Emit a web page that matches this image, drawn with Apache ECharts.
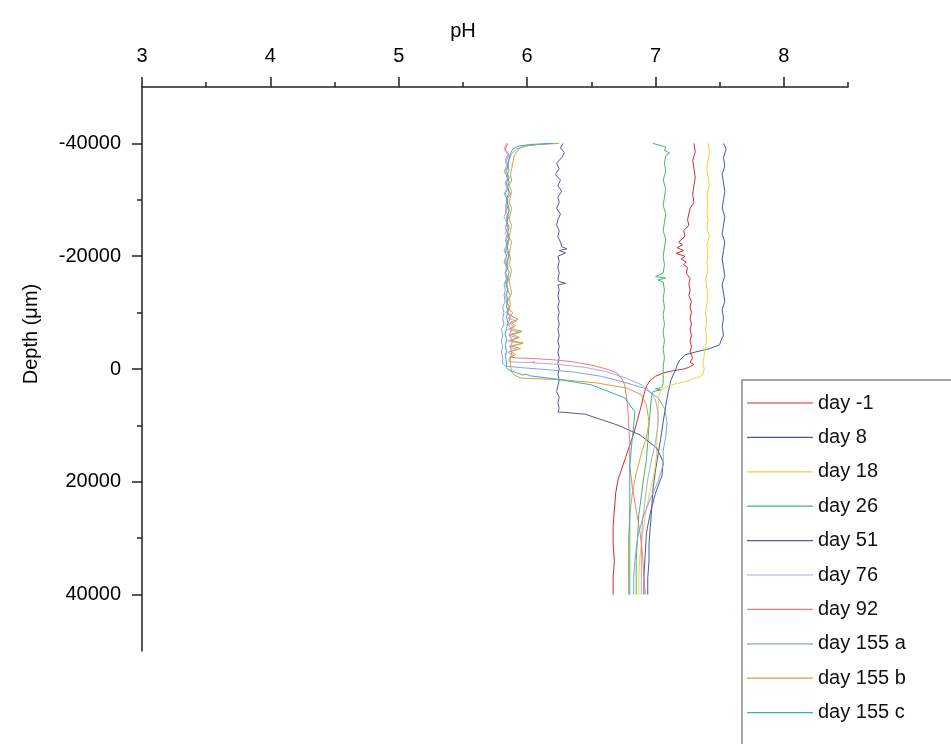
<!DOCTYPE html>
<html>
<head>
<meta charset="utf-8">
<script src="https://cdn.jsdelivr.net/npm/echarts@6/dist/echarts.min.js"></script>
<style>
  html, body { margin: 0; padding: 0; background: #fff; }
  #chart { width: 951px; height: 744px; }
</style>
</head>
<body>
<div id="chart"></div>
<script>
// pH depth profiles: each point is [pH, depth in µm]
const DAY_M1 = [[7.30,-40000],[7.31,-38500],[7.29,-37000],[7.30,-35500],[7.31,-34000],[7.30,-32500],[7.29,-31000],[7.30,-29500],[7.27,-28500],[7.26,-27500],[7.25,-26500],[7.26,-25500],[7.22,-24500],[7.23,-23500],[7.18,-22500],[7.21,-22000],[7.17,-21500],[7.22,-21000],[7.16,-20500],[7.23,-20000],[7.20,-19500],[7.24,-19000],[7.22,-18500],[7.25,-18000],[7.24,-17000],[7.27,-16000],[7.26,-15000],[7.27,-14000],[7.26,-13000],[7.28,-12000],[7.27,-11000],[7.28,-10000],[7.27,-9000],[7.28,-8000],[7.27,-7000],[7.28,-6000],[7.27,-5000],[7.28,-4000],[7.27,-3000],[7.29,-2000],[7.27,-1200],[7.30,-800],[7.26,-300],[7.22,0],[7.14,300],[7.06,700],[7.00,1300],[6.96,2000],[6.93,3000],[6.91,4500],[6.89,6500],[6.86,9000],[6.83,11500],[6.80,13500],[6.77,15500],[6.74,17500],[6.71,19500],[6.69,22000],[6.68,25000],[6.67,28000],[6.67,31000],[6.68,34000],[6.67,37000],[6.67,40000]];

const DAY_8 = [[7.53,-40000],[7.55,-39000],[7.53,-37500],[7.54,-36000],[7.52,-34500],[7.53,-33000],[7.54,-31500],[7.53,-30000],[7.52,-28500],[7.54,-27000],[7.53,-25500],[7.52,-24000],[7.54,-22500],[7.53,-21000],[7.52,-19500],[7.53,-18000],[7.54,-16500],[7.52,-15000],[7.53,-13500],[7.54,-12000],[7.52,-10500],[7.53,-9000],[7.52,-7500],[7.53,-6000],[7.51,-5000],[7.50,-4300],[7.42,-3600],[7.31,-3000],[7.23,-2500],[7.19,-1600],[7.17,-700],[7.15,500],[7.12,2000],[7.10,4000],[7.08,6500],[7.06,9400],[7.04,12500],[7.02,15200],[7.00,18000],[6.98,21500],[6.97,25000],[6.96,28000],[6.95,31000],[6.95,34000],[6.94,37000],[6.94,40000]];

const DAY_18 = [[7.41,-40000],[7.42,-38500],[7.41,-37000],[7.40,-35500],[7.41,-34000],[7.42,-32500],[7.40,-31000],[7.41,-29500],[7.40,-28000],[7.41,-26500],[7.40,-25000],[7.42,-23500],[7.40,-22000],[7.41,-20500],[7.40,-19000],[7.41,-17500],[7.39,-16000],[7.40,-14500],[7.41,-13000],[7.40,-11500],[7.39,-10000],[7.40,-8500],[7.39,-7000],[7.40,-5500],[7.39,-4000],[7.38,-2500],[7.37,-1000],[7.38,0],[7.37,1000],[7.34,1400],[7.30,1600],[7.27,2000],[7.22,2300],[7.16,2600],[7.10,3000],[7.05,3600],[7.03,4500],[7.02,6500],[7.02,9000],[7.01,12000],[7.01,15000],[7.00,17000],[6.98,19500],[6.95,22500],[6.92,26000],[6.90,29500],[6.88,33000],[6.87,36500],[6.87,40000]];

const DAY_26 = [[6.98,-40000],[7.03,-39700],[7.08,-39400],[7.07,-38800],[7.11,-38300],[7.08,-37800],[7.07,-36500],[7.08,-35000],[7.06,-33500],[7.08,-32000],[7.07,-30500],[7.06,-29000],[7.08,-27500],[7.07,-26000],[7.06,-24500],[7.08,-23000],[7.07,-21500],[7.06,-20000],[7.07,-18500],[7.06,-17000],[7.00,-16400],[7.08,-16100],[7.02,-15800],[7.06,-15400],[7.07,-14000],[7.06,-12500],[7.07,-11000],[7.06,-9500],[7.07,-8000],[7.06,-6500],[7.07,-5000],[7.06,-3500],[7.07,-2000],[7.06,-500],[7.06,1000],[7.06,2500],[7.05,3300],[7.00,3500],[7.04,3700],[6.98,4000],[6.97,5000],[6.96,7000],[6.95,10000],[6.94,13000],[6.93,16000],[6.91,19000],[6.89,22500],[6.87,26000],[6.86,30000],[6.85,34000],[6.85,37000],[6.85,40000]];

const DAY_51 = [[6.28,-40000],[6.26,-39200],[6.29,-38400],[6.27,-37500],[6.23,-36500],[6.25,-35500],[6.22,-34500],[6.26,-33500],[6.24,-32500],[6.27,-31500],[6.24,-30500],[6.25,-29500],[6.23,-28500],[6.26,-27500],[6.24,-26500],[6.23,-25500],[6.25,-24500],[6.24,-23500],[6.26,-22500],[6.27,-21700],[6.31,-21300],[6.25,-21000],[6.30,-20600],[6.24,-20000],[6.25,-19000],[6.24,-18000],[6.25,-17000],[6.24,-16000],[6.25,-15500],[6.30,-15200],[6.24,-14900],[6.25,-14000],[6.24,-13000],[6.25,-12000],[6.24,-11000],[6.25,-10000],[6.24,-9000],[6.25,-8000],[6.24,-7000],[6.25,-6000],[6.24,-5000],[6.25,-4000],[6.24,-3000],[6.25,-2000],[6.24,-1000],[6.25,0],[6.24,1000],[6.25,2000],[6.24,3000],[6.23,4000],[6.25,5000],[6.24,6000],[6.25,7000],[6.24,7600],[6.45,8000],[6.70,9900],[6.88,11700],[7.01,14000],[7.06,16500],[7.05,19000],[7.00,22000],[6.96,25500],[6.93,29000],[6.92,33000],[6.91,37000],[6.91,40000]];

const DAY_76 = [[5.84,-40000],[5.82,-39000],[5.85,-38000],[5.83,-37000],[5.84,-36000],[5.82,-35000],[5.85,-34000],[5.83,-33000],[5.84,-32000],[5.82,-31000],[5.85,-30000],[5.83,-29000],[5.84,-28000],[5.82,-27000],[5.84,-26000],[5.83,-25000],[5.85,-24000],[5.83,-23000],[5.84,-22000],[5.82,-21000],[5.84,-20000],[5.83,-19000],[5.85,-18000],[5.83,-17000],[5.84,-16000],[5.83,-15000],[5.85,-14000],[5.83,-13000],[5.84,-12000],[5.86,-11000],[5.84,-10000],[5.88,-9500],[5.85,-9000],[5.92,-8500],[5.86,-8000],[5.90,-7500],[5.85,-7000],[5.95,-6500],[5.86,-6000],[5.93,-5500],[5.85,-5000],[5.96,-4500],[5.86,-4000],[5.92,-3500],[5.85,-3000],[5.89,-2500],[5.86,-2000],[5.86,-1300],[5.92,-1200],[6.01,-1150],[6.06,-1250],[6.04,-1100],[6.20,-900],[6.45,-300],[6.62,500],[6.77,1600],[6.90,2900],[6.96,4000],[7.00,5500],[7.02,7600],[7.02,10000],[7.00,13000],[6.97,16000],[6.94,19500],[6.92,23000],[6.90,27000],[6.89,31000],[6.89,35000],[6.89,40000]];

const DAY_92 = [[5.85,-40000],[5.83,-39000],[5.86,-38000],[5.84,-37000],[5.85,-36000],[5.83,-35000],[5.86,-34000],[5.84,-33000],[5.85,-32000],[5.87,-31000],[5.84,-30000],[5.85,-29000],[5.83,-28000],[5.86,-27000],[5.84,-26000],[5.85,-25000],[5.83,-24000],[5.86,-23000],[5.85,-22000],[5.84,-21000],[5.86,-20000],[5.84,-19000],[5.85,-18000],[5.83,-17000],[5.86,-16000],[5.84,-15000],[5.85,-14000],[5.87,-13000],[5.84,-12000],[5.86,-11000],[5.85,-10000],[5.87,-9000],[5.85,-8000],[5.88,-7000],[5.86,-6000],[5.89,-5000],[5.87,-4000],[5.88,-3000],[5.87,-2100],[5.93,-1950],[6.05,-1850],[6.20,-1650],[6.35,-1300],[6.50,-700],[6.62,0],[6.70,700],[6.74,1800],[6.76,2800],[6.78,5800],[6.79,9000],[6.80,13000],[6.80,17000],[6.82,21000],[6.85,25000],[6.88,29000],[6.90,33000],[6.91,37000],[6.92,40000]];

const DAY_155A = [[6.22,-40000],[6.08,-39800],[5.98,-39500],[5.92,-39000],[5.88,-38200],[5.86,-37200],[5.85,-36000],[5.84,-35000],[5.86,-34000],[5.84,-33000],[5.85,-32000],[5.83,-31000],[5.85,-30000],[5.84,-29000],[5.86,-28000],[5.84,-27000],[5.85,-26000],[5.83,-25000],[5.85,-24000],[5.84,-23000],[5.85,-22000],[5.83,-21000],[5.84,-20000],[5.82,-19000],[5.84,-18000],[5.83,-17000],[5.84,-16000],[5.82,-15000],[5.83,-14000],[5.82,-13000],[5.83,-12000],[5.81,-11000],[5.82,-10000],[5.81,-9000],[5.82,-8000],[5.80,-7000],[5.81,-6000],[5.80,-5000],[5.81,-4000],[5.80,-3000],[5.81,-2000],[5.81,-1000],[5.83,-500],[5.95,-250],[6.15,100],[6.36,530],[6.58,1300],[6.75,2300],[6.91,3400],[7.02,5100],[7.07,7000],[7.09,9400],[7.08,12000],[7.06,14500],[7.06,17000],[7.02,20000],[6.96,23000],[6.90,26500],[6.86,30000],[6.84,34000],[6.83,37000],[6.83,40000]];

const DAY_155B = [[6.25,-40000],[6.10,-39850],[6.00,-39600],[5.95,-39200],[5.92,-38600],[5.90,-37800],[5.89,-36800],[5.88,-35500],[5.87,-34500],[5.88,-33500],[5.86,-32500],[5.88,-31500],[5.87,-30500],[5.86,-29500],[5.88,-28500],[5.87,-27500],[5.86,-26500],[5.88,-25500],[5.87,-24500],[5.86,-23500],[5.88,-22500],[5.87,-21500],[5.86,-20500],[5.87,-19500],[5.86,-18500],[5.88,-17500],[5.87,-16500],[5.86,-15500],[5.87,-14500],[5.88,-13500],[5.86,-12500],[5.87,-11500],[5.86,-10500],[5.89,-10000],[5.87,-9500],[5.93,-8800],[5.87,-8300],[5.91,-7700],[5.87,-7200],[5.96,-6700],[5.88,-6200],[5.94,-5600],[5.87,-5100],[5.97,-4600],[5.88,-4100],[5.95,-3600],[5.87,-3100],[5.91,-2600],[5.87,-2000],[5.87,-500],[5.88,500],[5.90,1060],[5.95,1600],[6.30,1950],[6.55,2500],[6.78,3400],[6.89,4600],[6.93,6400],[6.95,9400],[6.93,12000],[6.89,15000],[6.85,18500],[6.82,22000],[6.80,26000],[6.79,30000],[6.79,35000],[6.79,40000]];

const DAY_155C = [[6.20,-40000],[6.02,-39800],[5.93,-39500],[5.89,-39000],[5.87,-38200],[5.86,-37200],[5.85,-36200],[5.86,-35200],[5.84,-34200],[5.86,-33200],[5.85,-32200],[5.86,-31200],[5.84,-30200],[5.85,-29200],[5.86,-28200],[5.85,-27200],[5.84,-26200],[5.86,-25200],[5.85,-24200],[5.86,-23200],[5.84,-22200],[5.85,-21200],[5.86,-20200],[5.85,-19200],[5.84,-18200],[5.86,-17200],[5.85,-16200],[5.84,-15200],[5.85,-14200],[5.84,-13200],[5.85,-12200],[5.84,-11200],[5.85,-10200],[5.84,-9200],[5.85,-8200],[5.84,-7200],[5.83,-6200],[5.84,-5200],[5.83,-4200],[5.84,-3200],[5.83,-2200],[5.84,-1200],[5.84,-200],[5.86,180],[5.92,700],[5.97,1060],[5.99,900],[6.02,1200],[6.20,1700],[6.50,2800],[6.76,5100],[6.84,7600],[6.83,10000],[6.82,12200],[6.80,17000],[6.80,22000],[6.80,27000],[6.80,32000],[6.80,36000],[6.80,40000]];

const SERIES_NAMES = ['day -1', 'day 8', 'day 18', 'day 26', 'day 51', 'day 76', 'day 92', 'day 155 a', 'day 155 b', 'day 155 c'];
const SERIES_DATA = [DAY_M1, DAY_8, DAY_18, DAY_26, DAY_51, DAY_76, DAY_92, DAY_155A, DAY_155B, DAY_155C];
const SERIES_COLORS = ['#d42a2a', '#3d5aa6', '#f3d33c', '#45b86a', '#58579a', '#b4a8cc', '#f07a7a', '#7fa6d6', '#d9a23a', '#2fb3b0'];

// axis ticks
const PH_MAJOR = [3, 4, 5, 6, 7, 8];
const PH_MINOR = [3.5, 4.5, 5.5, 6.5, 7.5, 8.5];
const DEPTH_MAJOR = [-40000, -20000, 0, 20000, 40000];
const DEPTH_MINOR = [-30000, -10000, 10000, 30000];

const FONT = "'Liberation Sans', Arial, sans-serif";
const AXIS_COLOR = '#222';

const chart = echarts.init(document.getElementById('chart'), null, { renderer: 'canvas' });

chart.setOption({
  animation: false,
  backgroundColor: '#fff',
  textStyle: { fontFamily: FONT },
  grid: { left: 142, right: 103, top: 87, bottom: 93, containLabel: false },
  xAxis: [{
    type: 'value', position: 'top', min: 3, max: 8.5,
    axisLine: { show: true, onZero: false, lineStyle: { color: AXIS_COLOR, width: 1.5 } },
    axisTick: { show: true, inside: false, length: 10, customValues: PH_MAJOR, lineStyle: { color: AXIS_COLOR, width: 1.5 } },
    axisLabel: { customValues: PH_MAJOR, fontSize: 20, color: '#000', fontFamily: FONT, margin: 21 },
    splitLine: { show: false }
  }, {
    type: 'value', position: 'top', min: 3, max: 8.5,
    axisLine: { show: false, onZero: false },
    axisTick: { show: true, inside: false, length: 5, customValues: PH_MINOR, lineStyle: { color: AXIS_COLOR, width: 1.5 } },
    axisLabel: { show: false },
    splitLine: { show: false }
  }],
  yAxis: [{
    type: 'value', inverse: true, min: -50000, max: 50000, position: 'left',
    axisLine: { show: true, onZero: false, lineStyle: { color: AXIS_COLOR, width: 1.5 } },
    axisTick: { show: true, inside: false, length: 10, customValues: DEPTH_MAJOR, lineStyle: { color: AXIS_COLOR, width: 1.5 } },
    axisLabel: { customValues: DEPTH_MAJOR, formatter: v => String(v), fontSize: 20, color: '#000', fontFamily: FONT, margin: 21 },
    splitLine: { show: false }
  }, {
    type: 'value', inverse: true, min: -50000, max: 50000, position: 'left',
    axisLine: { show: false, onZero: false },
    axisTick: { show: true, inside: false, length: 5, customValues: DEPTH_MINOR, lineStyle: { color: AXIS_COLOR, width: 1.5 } },
    axisLabel: { show: false },
    splitLine: { show: false }
  }],
  legend: {
    orient: 'vertical', left: 742, top: 380, height: 360,
    data: SERIES_NAMES,
    icon: 'rect',
    itemWidth: 66, itemHeight: 1.2, itemGap: 10.4,
    padding: [11, 0, 0, 5],
    textStyle: { fontSize: 20, color: '#111', fontFamily: FONT, lineHeight: 24 }
  },
  graphic: [
    { type: 'text', x: 463, y: 31, style: { text: 'pH', fontSize: 20, fontFamily: FONT, fill: '#000', align: 'center', verticalAlign: 'middle' } },
    { type: 'text', x: 31, y: 334, rotation: Math.PI / 2, style: { text: 'Depth (μm)', fontSize: 20, fontFamily: FONT, fill: '#000', align: 'center', verticalAlign: 'middle' } },
    // legend frame, running past the right and bottom edges
    { type: 'rect', shape: { x: 742, y: 380, width: 260, height: 420 }, style: { fill: 'none', stroke: '#888', lineWidth: 1.5 }, z: 0 }
  ],
  series: SERIES_NAMES.map((name, i) => ({
    name: name,
    type: 'line',
    xAxisIndex: 0,
    yAxisIndex: 0,
    data: SERIES_DATA[i],
    symbol: 'none',
    showSymbol: false,
    smooth: false,
    color: SERIES_COLORS[i],
    lineStyle: { width: 1, color: SERIES_COLORS[i] },
    emphasis: { disabled: true }
  }))
});
</script>
</body>
</html>
